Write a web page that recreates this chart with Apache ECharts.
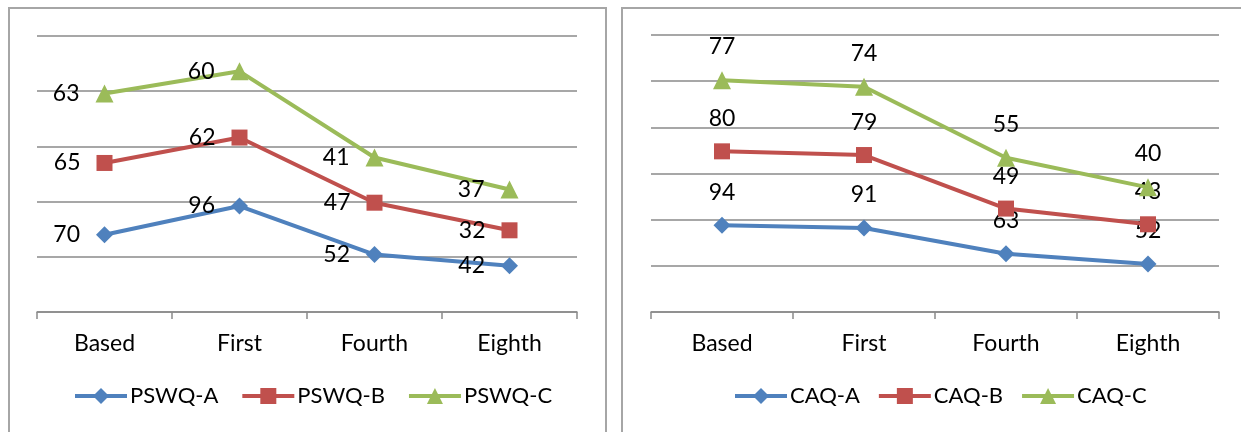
<!DOCTYPE html>
<html>
<head>
<meta charset="utf-8">
<script src="https://cdn.jsdelivr.net/npm/echarts@6/dist/echarts.min.js"></script>
<style>
  html, body { margin: 0; padding: 0; background: #fff; }
  #chart { width: 1241px; height: 432px; }
</style>
</head>
<body>
<div id="chart"></div>
<script>
const categories = ['Based', 'First', 'Fourth', 'Eighth'];
const pswqNames = ['PSWQ-A', 'PSWQ-B', 'PSWQ-C'];
const caqNames = ['CAQ-A', 'CAQ-B', 'CAQ-C'];
const pswqA = [70, 96, 52, 42];
const pswqB = [65, 62, 47, 32];
const pswqC = [63, 60, 41, 37];
const caqA = [94, 91, 63, 52];
const caqB = [80, 79, 49, 43];
const caqC = [77, 74, 55, 40];

const colors = ['#4F81BD', '#C0504D', '#9BBB59'];
const symbols = ['diamond', 'rect', 'triangle'];
const symbolSizes = [17, 16, 18];
const FONT = 'Lato, "Liberation Sans", sans-serif';
const gridColor = '#8a8a8a';

function mkSeries(names, datas, idx, stack, labelPos, labelDist) {
  return names.map((n, i) => ({
    name: n,
    type: 'line',
    xAxisIndex: idx,
    yAxisIndex: idx,
    stack: stack,
    data: datas[i],
    symbol: symbols[i],
    symbolSize: symbolSizes[i],
    color: colors[i],
    lineStyle: { width: 4, color: colors[i] },
    itemStyle: { color: colors[i] },
    label: {
      show: true,
      position: labelPos,
      distance: labelDist,
      color: '#000',
      fontSize: 23,
      fontFamily: FONT
    },
    z: 3 + i
  }));
}

function xAx(idx) {
  return {
    type: 'category',
    gridIndex: idx,
    data: categories,
    boundaryGap: true,
    axisLine: { show: true, lineStyle: { color: gridColor, width: 1.5 } },
    axisTick: { show: true, length: 7, lineStyle: { color: gridColor, width: 1.5 } },
    axisLabel: { color: '#000', fontSize: 23, fontFamily: FONT, margin: 20 }
  };
}
function yAx(idx, max) {
  return {
    type: 'value',
    gridIndex: idx,
    min: 0,
    max: max,
    interval: 50,
    axisLine: { show: false },
    axisTick: { show: false },
    axisLabel: { show: false },
    splitLine: { show: true, lineStyle: { color: gridColor, width: 1.5 } }
  };
}

function mkLegend(names, left, gap) {
  return {
    data: names, left: left, top: 385, padding: 0,
    itemWidth: 52, itemHeight: 20, itemGap: gap,
    lineStyle: { width: 4 },
    textStyle: { fontSize: 22, fontFamily: FONT, color: '#000', padding: [0, 0, 0, -2] }
  };
}

const chart = echarts.init(document.getElementById('chart'));
chart.setOption({
  animation: false,
  backgroundColor: '#fff',
  graphic: [
    { type: 'rect', shape: { x: 9, y: 8, width: 597, height: 440 },
      style: { fill: 'none', stroke: '#a6a6a6', lineWidth: 2 } },
    { type: 'rect', shape: { x: 622, y: 8, width: 640, height: 440 },
      style: { fill: 'none', stroke: '#a6a6a6', lineWidth: 2 } }
  ],
  grid: [
    { left: 37, top: 36, width: 540, height: 276 },
    { left: 651, top: 35, width: 568, height: 277 }
  ],
  legend: [mkLegend(pswqNames, 73, 22), mkLegend(caqNames, 733, 17)],
  xAxis: [xAx(0), xAx(1)],
  yAxis: [yAx(0, 250), yAx(1, 300)],
  series: [
    ...mkSeries(pswqNames, [pswqA, pswqB, pswqC], 0, 'pswq', 'left', 16),
    ...mkSeries(caqNames, [caqA, caqB, caqC], 1, 'caq', 'top', 13)
  ]
});
</script>
</body>
</html>
